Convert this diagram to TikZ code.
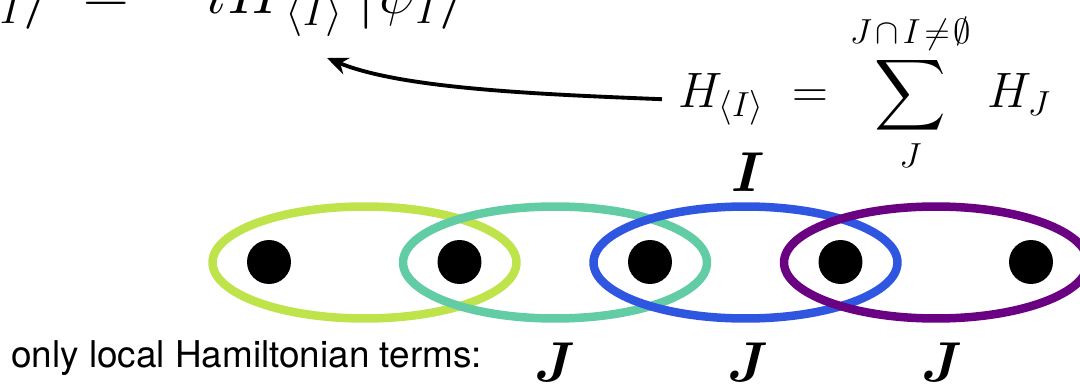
\RequirePackage{fix-cm}
\documentclass[tikz,border=0pt]{standalone}
\usepackage{amsmath}
\usepackage{amssymb}
\DeclareFontShape{OMX}{cmex}{m}{n}{<-> cmex10}{}
\usepackage{fontspec}
\newfontfamily\helv{TeX Gyre Heros}
\usepackage{tikz}
\usetikzlibrary{positioning, arrows.meta, shapes.geometric, calc}

\definecolor{tgreen}{RGB}{190,227,75}
\definecolor{tteal}{RGB}{98,205,165}
\definecolor{tblue}{RGB}{47,86,224}
\definecolor{tpurple}{RGB}{106,0,130}

\tikzset{
    site/.style={circle, fill=black, inner sep=0pt, minimum size=0.88cm},
    term/.style={ellipse, draw=#1, line width=0.17cm, inner sep=0pt, minimum width=6.08cm, minimum height=2.24cm},
    lbl/.style={inner sep=0pt, font=\fontsize{32}{38}\selectfont},
}

\begin{document}
\begin{tikzpicture}[x=0.02cm, y=-0.02cm]
    \useasboundingbox (0,0) rectangle (1080,385);
    \clip (0,0) rectangle (1080,385);

    % Equations
    \node[inner sep=0pt, anchor=base east, font=\fontsize{36}{42}\selectfont] (deq) at (464,14) {$\displaystyle \partial_t|\psi_I\rangle \;=\, -iH_{\mkern3mu\langle I\rangle}\mkern4mu|\psi_I\rangle$};
    \node[inner sep=0pt, anchor=base west, font=\fontsize{28.3}{34}\selectfont] (heq) at (678,108) {$\displaystyle H_{\langle I\rangle}\;=\,\sum_{J}^{J\mkern2mu\cap\mkern2mu I\mkern2mu\neq\mkern2mu\emptyset}\,H_J$};
    \coordinate (tgt) at (327,58);
    \draw[line width=2.2pt, -{Stealth[length=12pt, width=10pt]}] ([shift={(-16,-5)}]heq.mid west) .. controls (530,94) and (400,88) .. (tgt);

    % Termes locaux
    \node[term=tgreen] (t1) at (364.5,262.5) {};
    \node[term=tteal] (t2) at (555,262.5) {};
    \node[term=tblue] (t3) at (745.5,262.5) {};
    \node[term=tpurple] (t4) at (936,262.5) {};

    % Sites
    \node[site] (s1) at (269,262) {};
    \node[site] (s2) at (459.5,262) {};
    \node[site] (s3) at (650,262) {};
    \node[site] (s4) at (840.5,262) {};
    \node[site] (s5) at (1031,262) {};

    % Labels
    \node[lbl, anchor=base] (li) at (748,192) {$\boldsymbol{I}$};
    \node[lbl, anchor=base] (lj1) at (555,381) {$\boldsymbol{J}$};
    \node[lbl, anchor=base] (lj2) at (748,381) {$\boldsymbol{J}$};
    \node[lbl, anchor=base] (lj3) at (942,381) {$\boldsymbol{J}$};
    \node[inner sep=0pt, anchor=base west, font=\helv\fontsize{21}{25}\selectfont] (txt) at (11,368) {only local Hamiltonian terms:};
\end{tikzpicture}
\end{document}
